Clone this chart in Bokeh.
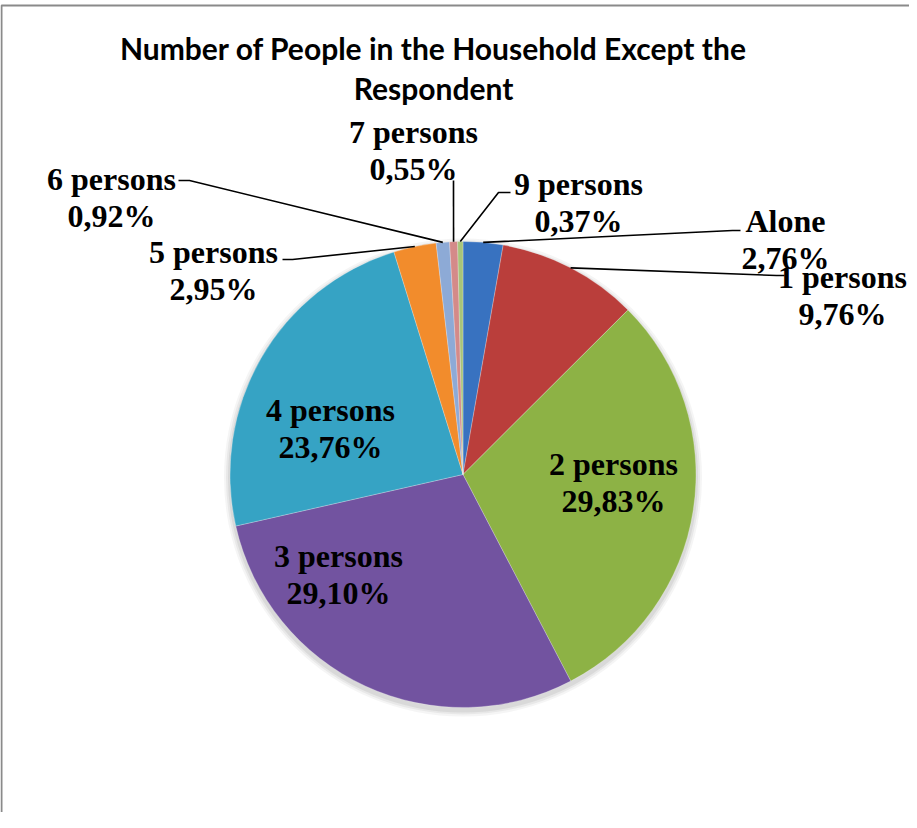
import math
from bokeh.plotting import figure
from bokeh.models import Range1d
from bokeh.core.properties import value
from bokeh.embed import file_html
from bokeh.resources import INLINE

# ---- data ----
categories = ["Alone", "1 persons", "2 persons", "3 persons", "4 persons",
              "5 persons", "6 persons", "7 persons", "9 persons"]
percents = [2.76, 9.76, 29.83, 29.10, 23.76, 2.95, 0.92, 0.55, 0.37]
pct_labels = ["2,76%", "9,76%", "29,83%", "29,10%", "23,76%", "2,95%", "0,92%", "0,55%", "0,37%"]
colors = ["#3872C0", "#BA3E3B", "#8DB245", "#7253A0", "#36A3C4",
          "#F28C2C", "#8DAAD6", "#D48A89", "#A8C47A"]
title_lines = ["Number of People in the Household Except the", "Respondent"]

# ---- layout (page pixel coordinates) ----
W, H = 909, 812
def X(px):
    return px - 8
def Y(py):
    return H + 8 - py

CX, CY, R = 470.5, 482.0, 233.0

# label line centres (page px): (x, y_first_line)
label_pos = {
    "Alone": (793, 228),
    "1 persons": (850, 284),
    "2 persons": (621, 471),
    "3 persons": (346, 563),
    "4 persons": (338, 417),
    "5 persons": (221, 259),
    "6 persons": (119, 186),
    "7 persons": (421, 139),
    "9 persons": (586, 191),
}
LINE_GAP = 37
# leader lines: elbow point then end point (page px)
leaders = {
    "Alone": [(740, 238), (748, 238)],
    "1 persons": [(784, 283), (792, 283)],
    "5 persons": [(300, 267), (290, 267)],
    "6 persons": [(197, 188), (186, 188)],
    "7 persons": [(461, 188)],
    "9 persons": [(506, 200), (518, 200)],
}

p = figure(width=W, height=H, x_range=Range1d(0, W), y_range=Range1d(0, H),
           min_border=0, toolbar_location=None, output_backend="svg",
           x_axis_location=None, y_axis_location=None)
p.grid.visible = False
p.outline_line_color = None
p.background_fill_color = "white"

# frame border
p.quad(left=[X(9)], right=[X(2000)], top=[Y(13)], bottom=[Y(2000)],
       fill_color=None, line_color="#8A8A8A", line_width=2)

# shadow
for k, a in [(6, 0.06), (4, 0.08), (2, 0.10)]:
    p.circle(x=[X(CX)], y=[Y(CY + 3)], radius=R + k, fill_color="#555555",
             fill_alpha=a, line_color=None)

# wedges
total = sum(percents)
cum = 0.0
starts, ends, mids = [], [], []
for v in percents:
    a0 = cum / total * 2 * math.pi
    cum += v
    a1 = cum / total * 2 * math.pi
    starts.append(math.pi / 2 - a0)
    ends.append(math.pi / 2 - a1)
    mids.append((a0 + a1) / 2)

p.wedge(x=X(CX), y=Y(CY), radius=R, start_angle=starts, end_angle=ends,
        direction="clock", fill_color=colors, line_color="#FFFFFF",
        line_alpha=0.25, line_width=1)

# leader lines
for i, cat in enumerate(categories):
    if cat not in leaders:
        continue
    m = mids[i]
    ex, ey = CX + R * math.sin(m), CY - R * math.cos(m)
    pts = [(ex, ey)] + leaders[cat]
    p.line(x=[X(a) for a, b in pts], y=[Y(b) for a, b in pts],
           line_color="black", line_width=1.6)

# labels
for i, cat in enumerate(categories):
    lx, ly = label_pos[cat]
    p.text(x=[X(lx), X(lx)], y=[Y(ly), Y(ly + LINE_GAP)], text=[cat, pct_labels[i]],
           text_font=value("Liberation Serif"), text_font_style="bold",
           text_font_size="32px", text_color="black", text_align="center",
           text_baseline="middle")

# title
p.text(x=[X(441), X(441)], y=[Y(55), Y(95)], text=title_lines,
       text_font=value("Lato"), text_font_style="bold", text_font_size="30px",
       text_color="black", text_align="center", text_baseline="middle")

open("out.html", "w").write(file_html(p, INLINE))
